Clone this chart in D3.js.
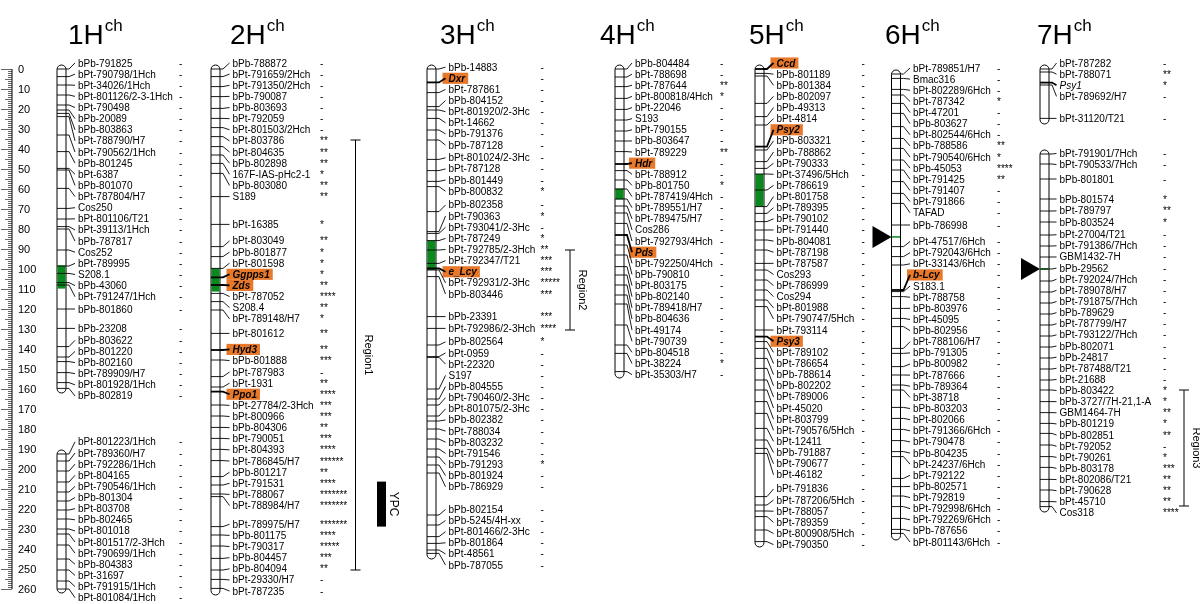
<!DOCTYPE html>
<html><head><meta charset="utf-8">
<script src="https://cdn.jsdelivr.net/npm/d3@7"></script>
<style>
body{margin:0;background:#fff}
svg{will-change:transform}
text{font-family:"Liberation Sans",Arial,Helvetica,sans-serif;fill:#000}
</style>
</head><body>
<svg id="c" width="1200" height="604"></svg>
<script>
// ---------------- DATA ----------------
const chrNames = ["1H","2H","3H","4H","5H","6H","7H"];
const axisTickValues = d3.range(0, 261, 10);

// [marker, cM, significance]
const markers1H = [
["bPb-791825",0,"-"],["bPt-790798/1Hch",3.8,"-"],["bPt-34026/1Hch",8,"-"],["bPt-801126/2-3-1Hch",13,"-"],
["bPt-790498",18,"-"],["bPb-20089",20.5,"-"],["bPb-803863",22.2,"-"],["bPt-788790/H7",23.8,"-"],
["bPt-790562/1Hch",33,"-"],["bPb-801245",41.3,"-"],["bPt-6387",49.7,"-"],["bPb-801070",50.5,"-"],
["bPt-787804/H7",59.7,"-"],["Cos250",69.7,"-"],["bPt-801106/T21",75,"-"],["bPt-39113/1Hch",78.8,"-"],
["bPb-787817",80,"-"],["Cos252",90.5,"-"],["bPt-789995",98.5,"-"],["S208.1",102.2,"-"],
["bPb-43060",106.8,"-"],["bPt-791247/1Hch",108,"-"],["bPb-801860",120,"-"],
["bPb-23208",129.7,"-"],["bPb-803622",138.8,"-"],["bPb-801220",144,"-"],["bPb-802160",146.3,"-"],
["bPt-789909/H7",151.8,"-"],["bPt-801928/1Hch",156.8,"-"],["bPb-802819",159.7,"-"],
["bPt-801223/1Hch",192.5,"-"],["bPt-789360/H7",196,"-"],["bPt-792286/1Hch",201,"-"],["bPt-804165",206.5,"-"],
["bPt-790546/1Hch",211.5,"-"],["bPb-801304",216,"-"],["bPt-803708",220.5,"-"],["bPb-802465",225,"-"],
["bPt-801018",230,"-"],["bPt-801517/2-3Hch",232.5,"-"],["bPt-790699/1Hch",238,"-"],["bPb-804383",245,"-"],
["bPt-31697",250.5,"-"],["bPt-791915/1Hch",256,"-"],["bPt-801084/1Hch",260,"-"]
];
const markers2H = [
["bPb-788872",0,"-"],["bPt-791659/2Hch",3.8,"-"],["bPt-791350/2Hch",8.8,"-"],["bPb-790087",13.8,"-"],
["bPb-803693",19.7,"-"],["bPt-792059",24.7,"-"],["bPt-801503/2Hch",29.3,"-"],["bPt-803786",33.8,"**"],
["bPt-804635",38.8,"**"],["bPb-802898",43,"**"],["167F-IAS-pHc2-1",47.2,"*"],["bPb-803080",52.2,"**"],
["S189",63.8,"**"],["bPt-16385",77.7,"*"],["bPt-803049",88.8,"**"],["bPb-801877",93.8,"*"],
["bPt-801598",99.7,"*"],["Ggpps1",104.2,"*"],["Zds",108,"**"],["bPt-787052",112.2,"****"],
["S208.4",116.3,"**"],["bPt-789148/H7",120.5,"*"],["bPt-801612",132.2,"**"],["Hyd3",140.5,"**"],
["bPb-801888",145.5,"***"],["bPt-787983",153.8,"-"],["bPt-1931",159,"**"],["Ppo1",161.3,"****"],
["bPt-27784/2-3Hch",168,"***"],["bPt-800966",173.5,"***"],["bPb-804306",179.2,"**"],["bPt-790051",184.7,"***"],
["bPt-804393",190.2,"****"],["bPt-786845/H7",195.8,"******"],["bPb-801217",203.8,"**"],["bPt-791531",208,"****"],
["bPt-788067",212.5,"*******"],["bPt-788984/H7",213.8,"*******"],["bPt-789975/H7",228.8,"*******"],
["bPb-801175",233,"****"],["bPt-790317",238.5,"*****"],["bPb-804457",244.7,"***"],["bPb-804094",250.5,"**"],
["bPt-29330/H7",255.2,"-"],["bPt-787235",259.7,"-"]
];
const markers3H = [
["bPb-14883",0,"-"],["Dxr",6.7,"-"],["bPt-787861",11.8,"-"],["bPb-804152",18.8,"-"],
["bPt-801920/2-3Hc",20.5,"-"],["bPt-14662",24.7,"-"],["bPb-791376",30.5,"-"],["bPb-787128",35.5,"-"],
["bPt-801024/2-3Hc",45.2,"-"],["bPt-787128",50.8,"-"],["bPb-801449",56.2,"-"],["bPb-800832",58.8,"*"],
["bPb-802358",71.3,"-"],["bPt-790363",81.3,"*"],["bPt-793041/2-3Hc",82.2,"-"],["bPt-787249",85.8,"*"],
["bPt-792785/2-3Hch",90.5,"**"],["bPt-792347/T21",97.2,"***"],["e_Lcy",99.7,"***"],["bPt-792931/2-3Hc",100.5,"*****"],
["bPb-803446",103.8,"***"],["bPb-23391",123.8,"***"],["bPt-792986/2-3Hch",129.7,"****"],["bPb-802564",138,"*"],
["bPt-0959",143.8,"-"],["bPt-22320",144.2,"-"],["S197",160,"-"],["bPb-804555",165,"-"],
["bPt-790460/2-3Hc",168,"-"],["bPt-801075/2-3Hc",173.5,"-"],["bPb-802382",176,"-"],["bPt-788034",180,"-"],
["bPb-803232",185,"-"],["bPt-791546",190,"-"],["bPb-791293",194,"*"],["bPb-801924",198,"-"],
["bPb-786929",202,"-"],["bPb-802154",223,"-"],["bPb-5245/4H-xx",228,"-"],["bPt-801466/2-3Hc",233.8,"-"],
["bPb-801864",237.2,"-"],["bPt-48561",240.5,"-"],["bPb-787055",242.2,"-"]
];
const markers4H = [
["bPb-804484",0,"-"],["bPt-788698",4,"-"],["bPt-787644",8.8,"**"],["bPt-800818/4Hch",14.7,"*"],
["bPt-22046",20.2,"-"],["S193",25.5,"-"],["bPt-790155",31,"-"],["bPb-803647",36,"-"],
["bPt-789229",41.3,"**"],["Hdr",47.5,"-"],["bPt-788912",50.8,"-"],["bPb-801750",55.5,"*"],
["bPt-787419/4Hch",60,"-"],["bPt-789551/H7",65,"-"],["bPt-789475/H7",68.5,"-"],["Cos286",72,"-"],
["bPt-792793/4Hch",77.2,"-"],["Pds",83,"-"],["bPt-792250/4Hch",88,"-"],["bPb-790810",93,"-"],
["bPt-803175",98.8,"-"],["bPb-802140",103,"-"],["bPt-789418/H7",108,"-"],["bPb-804636",113,"-"],
["bPt-49174",117.5,"-"],["bPt-790739",128,"-"],["bPb-804518",138,"-"],["bPt-38224",142.2,"*"],
["bPt-35303/H7",151.3,"-"]
];
const markers5H = [
["Ccd",0,"-"],["bPb-801189",2.2,"-"],["bPb-801384",3.5,"-"],["bPb-802097",17.2,"-"],
["bPb-49313",23.8,"-"],["bPt-4814",28,"-"],["Psy2",38.8,"-"],["bPb-803321",40.5,"-"],
["bPb-788862",46.3,"-"],["bPt-790333",49.7,"-"],["bPt-37496/5Hch",52.5,"-"],["bPt-786619",60.5,"-"],
["bPt-801758",68.8,"-"],["bPt-789395",72.2,"-"],["bPt-790102",76.3,"-"],["bPt-791440",80.5,"-"],
["bPb-804081",85.5,"-"],["bPt-787198",90.5,"-"],["bPt-787587",97.2,"-"],["Cos293",100.5,"-"],
["bPt-786999",105.5,"-"],["Cos294",110.5,"-"],["bPt-801988",115.5,"-"],["bPt-790747/5Hch",118.8,"-"],
["bPt-793114",130.5,"-"],["Psy3",133.8,"-"],["bPt-789102",136.3,"-"],["bPt-786654",139.7,"-"],
["bPb-788614",144.7,"-"],["bPb-802202",149.7,"-"],["bPt-789006",155.5,"-"],["bPt-45020",160.5,"-"],
["bPt-803799",166.3,"-"],["bPt-790576/5Hch",172.2,"-"],["bPt-12411",179.7,"-"],["bPb-791887",185.5,"-"],
["bPt-790677",189.7,"-"],["bPt-46182",192.2,"-"],["bPt-791836",213.8,"-"],["bPt-787206/5Hch",218,"-"],
["bPt-788057",221,"-"],["bPt-789359",223.8,"-"],["bPt-800908/5Hch",230.5,"-"],["bPt-790350",236.3,"-"]
];
const markers6H = [
["bPt-789851/H7",2.5,"-"],["Bmac316",4.7,"-"],["bPt-802289/6Hch",10.2,"-"],["bPt-787342",13,"*"],
["bPt-47201",17.2,"-"],["bPb-803627",22.2,"-"],["bPt-802544/6Hch",28.8,"-"],["bPb-788586",34.7,"**"],
["bPt-790540/6Hch",39.7,"*"],["bPb-45053",45.5,"****"],["bPt-791425",50.5,"**"],["bPt-791407",56.3,"-"],
["bPt-791866",62.2,"-"],["TAFAD",67.2,"-"],["bPb-786998",78,"-"],["bPt-47517/6Hch",88.8,"-"],
["bPt-792043/6Hch",93.8,"-"],["bPt-33143/6Hch",98,"-"],["b-Lcy",110.5,"-"],["S183.1",111.3,"-"],
["bPt-788758",113.8,"-"],["bPb-803976",119.7,"-"],["bPt-45095",124.7,"-"],["bPb-802956",128.8,"-"],
["bPt-788106/H7",139.7,"-"],["bPb-791305",142.2,"-"],["bPb-800982",148.8,"-"],["bPt-787666",153,"-"],
["bPb-789364",158,"-"],["bPt-38718",160.5,"-"],["bPb-803203",169.2,"-"],["bPt-802066",174.7,"-"],
["bPt-791366/6Hch",180.2,"-"],["bPt-790478",185.8,"-"],["bPb-804235",191.3,"-"],["bPt-24237/6Hch",193.8,"-"],
["bPt-792122",204.7,"-"],["bPb-802571",208.8,"-"],["bPt-792819",213.5,"-"],["bPt-792998/6Hch",218.8,"-"],
["bPt-792269/6Hch",224.7,"-"],["bPb-787656",230.2,"-"],["bPt-801143/6Hch",232.2,"-"]
];
const markers7H = [
["bPt-787282",0,"-"],["bPt-788071",1.5,"**"],["Psy1",6.8,"*"],["bPt-789692/H7",8,"-"],
["bPt-31120/T21",24.7,"-"],
["bPt-791901/7Hch",42.5,"-"],["bPt-790533/7Hch",47.5,"-"],["bPb-801801",55,"-"],
["bPb-801574",65,"*"],["bPt-789797",71,"**"],["bPb-803524",76.5,"*"],["bPt-27004/T21",83,"-"],
["bPt-791386/7Hch",88.5,"-"],["GBM1432-7H",94,"-"],["bPb-29562",100,"-"],["bPt-792024/7Hch",106,"-"],
["bPt-789078/H7",111.5,"-"],["bPt-791875/7Hch",117,"-"],["bPb-789629",122.5,"-"],["bPt-787799/H7",128,"-"],
["bPt-793122/7Hch",133.5,"-"],["bPb-802071",139,"-"],["bPb-24817",144.5,"-"],["bPt-787488/T21",150,"-"],
["bPt-21688",155.5,"-"],["bPb-803422",160.5,"*"],["bPb-3727/7H-21,1-A",166.3,"*"],["GBM1464-7H",171.8,"**"],
["bPb-801219",177.2,"*"],["bPb-802851",182.2,"**"],["bPt-792052",188,"-"],["bPt-790261",193.8,"*"],
["bPb-803178",199.2,"***"],["bPt-802086/T21",205.2,"**"],["bPt-790628",210.5,"**"],["bPt-45710",216.3,"**"],
["Cos318",218.8,"****"]
];

// chromosome segments [start cM, end cM]
const segments = {
  "1H": [[0,160],[192.5,260]], "2H": [[0,261]], "3H": [[0,243]], "4H": [[0,152.5]],
  "5H": [[0,237]], "6H": [[2.5,233.5]], "7H": [[0,25.5],[42.5,219.5]]
};
// highlighted candidate genes
const highlightGenes = ["Ggpps1","Zds","Hyd3","Ppo1","Dxr","e_Lcy","Hdr","Pds","Ccd","Psy2","Psy3","b-Lcy"];
const boldGenes = ["Psy1"];
// green segments [chr, from cM, to cM]
const greenSegments = [["1H",98.2,109.8],["2H",99.7,111.3],["3H",85.8,100.5],["4H",59.8,65.2],
  ["5H",52.5,68.8],["6H",83.6,84.3],["7H",99.6,100.4]];
// QTL regions [chr, label, from cM, to cM]
const qtlRegions = [["2H","Region1",35.5,250.5],["3H","Region2",90.5,130.5],["7H","Region3",160.5,218.5]];
const ypcBlocks = [["2H","YPC",206.3,228.8]];
const triangles = [["6H",84],["7H",100]];

// ---------------- LAYOUT ----------------
const markerSets = {"1H":markers1H,"2H":markers2H,"3H":markers3H,"4H":markers4H,"5H":markers5H,"6H":markers6H,"7H":markers7H};
const layout = {
  "1H":{bar:57, lab:78, sig:179, title:68},
  "2H":{bar:211, lab:232.5, sig:320, title:230, region:355.5, ypc:377},
  "3H":{bar:427, lab:448.5, sig:540.5, title:440, region:570},
  "4H":{bar:615, lab:635, sig:720, title:600},
  "5H":{bar:755, lab:776.5, sig:861.5, title:749},
  "6H":{bar:891.5, lab:913, sig:997, title:885},
  "7H":{bar:1040, lab:1059.5, sig:1163, title:1037, region:1184}
};
const BAR_W = 9, GAP = 11.13, FS = 10;
const ORANGE = "#E8782A", GREEN = "#0A8A1E";

const svg = d3.select("#c");
const y = d3.scaleLinear().domain([0,260]).range([69,589]);

// ---- left ruler
const ax = svg.append("g");
const AXX = 12;
ax.append("line").attr("x1",AXX).attr("x2",AXX).attr("y1",y(0)).attr("y2",y(260)).attr("stroke","#000").attr("stroke-width",1);
ax.selectAll("line.t").data(d3.range(0,261,1)).join("line")
  .attr("x1",d=> d%10===0 ? AXX-11 : (d%5===0 ? AXX-7 : AXX-4)).attr("x2",AXX)
  .attr("y1",d=>y(d)+0.5).attr("y2",d=>y(d)+0.5).attr("stroke","#000").attr("stroke-width",0.6);
ax.selectAll("text").data(axisTickValues).join("text")
  .attr("x",AXX+6).attr("y",d=>y(d)).attr("dy","0.35em").attr("font-size",11).text(d=>d);

// label spreading (cluster centering)
function spread(vals, gap, minTop){
  const cl=[];
  const top=c=>Math.max(minTop, c.sum/c.n-(c.n-1)*gap/2);
  vals.forEach(v=>{
    cl.push({n:1,sum:v});
    while(cl.length>1){
      const a=cl[cl.length-2], b=cl[cl.length-1];
      if(top(a)+a.n*gap>top(b)){a.n+=b.n;a.sum+=b.sum;cl.pop();} else break;
    }
  });
  const out=[];
  cl.forEach(c=>{const t=top(c);for(let k=0;k<c.n;k++)out.push(t+k*gap);});
  return out;
}

chrNames.forEach(name=>{
  const L = layout[name], ms = markerSets[name];
  const g = svg.append("g");
  // title
  const t1 = g.append("text").attr("x",L.title).attr("y",44).attr("font-size",28).text(name);
  const w = t1.node().getComputedTextLength();
  g.append("text").attr("x",L.title+w+1).attr("y",31).attr("font-size",17).text("ch");

  // bars
  segments[name].forEach(([a,b])=>{
    g.append("rect").attr("x",L.bar).attr("y",y(a)-4).attr("width",BAR_W).attr("height",y(b)-y(a)+8)
      .attr("rx",BAR_W/2).attr("ry",4.5).attr("fill","#fff").attr("stroke","#000").attr("stroke-width",1);
  });
  greenSegments.filter(d=>d[0]===name).forEach(([c,a,b])=>{
    g.append("rect").attr("x",L.bar+0.5).attr("y",y(a)).attr("width",BAR_W-1).attr("height",Math.max(1.5,y(b)-y(a)))
      .attr("fill",GREEN);
  });
  // ticks
  const ty = ms.map(m=>y(m[1]));
  const minTop = y(segments[name][0][0]) - 6;
  const ly = spread(ty, GAP, minTop);
  ms.forEach((m,i)=>{
    const isG = highlightGenes.includes(m[0]) || boldGenes.includes(m[0]);
    const sw = isG?1.8:0.9;
    g.append("line").attr("x1",L.bar).attr("x2",L.bar+BAR_W).attr("y1",ty[i]).attr("y2",ty[i]).attr("stroke","#000").attr("stroke-width",sw);
    g.append("polyline").attr("points",[[L.bar+BAR_W,ty[i]],[L.bar+BAR_W+3,ty[i]],[L.lab-3,ly[i]]].map(p=>p.join(",")).join(" "))
      .attr("fill","none").attr("stroke","#000").attr("stroke-width",sw);
  });
  // labels
  ms.forEach((m,i)=>{
    const hl = highlightGenes.includes(m[0]);
    const it = hl || boldGenes.includes(m[0]);
    const tx = g.append("text").attr("x",L.lab).attr("y",ly[i]).attr("dy","0.35em").attr("font-size",FS)
      .attr("font-style",it?"italic":null).attr("font-weight",hl?"bold":null).text(m[0]);
    if(hl){
      const tw = tx.node().getComputedTextLength();
      g.insert("rect",":first-child").attr("x",L.lab-6).attr("y",ly[i]-GAP/2).attr("width",tw+9).attr("height",GAP)
        .attr("fill",ORANGE);
    }
    g.append("text").attr("x",L.sig).attr("y",ly[i]).attr("dy","0.35em").attr("font-size",FS).attr("fill","#333").text(m[2]);
  });
});

// regions
qtlRegions.forEach(([c,lab,a,b])=>{
  const x = layout[c].region;
  const g = svg.append("g");
  g.append("line").attr("x1",x).attr("x2",x).attr("y1",y(a)).attr("y2",y(b)).attr("stroke","#000");
  [a,b].forEach(v=>g.append("line").attr("x1",x-5).attr("x2",x+5).attr("y1",y(v)).attr("y2",y(v)).attr("stroke","#000"));
  const cy = (y(a)+y(b))/2;
  g.append("text").attr("transform",`translate(${x+9},${cy}) rotate(90)`).attr("text-anchor","middle")
    .attr("font-size",11).text(lab);
});
ypcBlocks.forEach(([c,lab,a,b])=>{
  const x = layout[c].ypc;
  svg.append("rect").attr("x",x).attr("y",y(a)).attr("width",9).attr("height",y(b)-y(a)).attr("fill","#000");
  svg.append("text").attr("transform",`translate(${x+13},${(y(a)+y(b))/2}) rotate(90)`).attr("text-anchor","middle")
    .attr("font-size",12).text(lab);
});
triangles.forEach(([c,v])=>{
  const x = layout[c].bar, yy=y(v);
  svg.append("path").attr("d",`M${x-19},${yy-11}L${x},${yy}L${x-19},${yy+11}Z`).attr("fill","#000");
});
</script>
</body></html>
